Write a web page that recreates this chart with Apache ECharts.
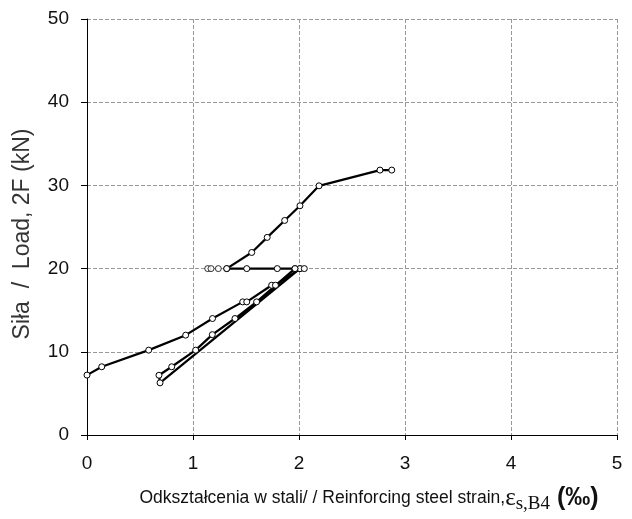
<!DOCTYPE html>
<html>
<head>
<meta charset="utf-8">
<script src="https://cdn.jsdelivr.net/npm/echarts@6/dist/echarts.min.js"></script>
<style>html,body{margin:0;padding:0;background:#fff}#c{width:632px;height:519px}</style>
</head>
<body>
<div id="c"></div>
<script>
// Data (strain ‰, load kN)
const load1X = [0, 0.139, 0.582, 0.931, 1.184, 1.469, 1.507, 1.742, 1.778, 2.009];
const load1Y = [7.2, 8.2, 10.2, 12.0, 14.0, 16.0, 16.0, 18.0, 18.0, 20.0];
const cycleX = [2.009, 0.689, 0.679, 0.799, 1.025, 1.182, 1.396, 1.600, 1.962];
const cycleY = [20.0, 6.27, 7.18, 8.2, 10.2, 12.06, 14.0, 16.0, 20.0];
const holdX = [1.962, 2.050, 1.795, 1.507, 1.318];
const holdY = [20.0, 20.0, 20.0, 20.0, 20.0];
const upperX = [1.318, 1.554, 1.700, 1.865, 2.009, 2.189, 2.764, 2.875];
const upperY = [20.0, 21.94, 23.75, 25.79, 27.55, 29.95, 31.84, 31.84];
const looseX = [1.139, 1.170, 1.239];
const looseY = [20.0, 20.0, 20.0];
const xTicks = [0, 1, 2, 3, 4, 5];
const yTicks = [0, 10, 20, 30, 40, 50];

const pairs = (xs, ys) => xs.map((x, i) => [x, ys[i]]);
const FONT = 'Liberation Sans';
const lineSeries = (xs, ys) => ({
  type: 'line', data: pairs(xs, ys),
  symbol: 'circle', symbolSize: 6, showAllSymbol: true,
  lineStyle: {color: '#000', width: 2.2},
  itemStyle: {color: '#fff', borderColor: '#000', borderWidth: 1},
  animation: false, z: 3
});

const chart = echarts.init(document.getElementById('c'), null, {renderer: 'canvas'});
chart.setOption({
  backgroundColor: '#fff',
  animation: false,
  grid: {left: 87, right: 15, top: 19, bottom: 84, containLabel: false},
  xAxis: {
    type: 'value', min: xTicks[0], max: xTicks[xTicks.length - 1], interval: 1,
    axisLine: {show: true, onZero: false, lineStyle: {color: '#000', width: 1}},
    axisTick: {show: true, length: 5, lineStyle: {color: '#000'}},
    axisLabel: {color: '#111', fontFamily: FONT, fontSize: 19, margin: 19},
    splitLine: {show: true, lineStyle: {color: '#999', type: [4, 2], width: 1}},
    name: '{t|Odkształcenia w stali/ / Reinforcing steel strain,}{e|ε}{s|s,B4}{b| (‰)}',
    nameLocation: 'middle', nameGap: 48,
    nameTextStyle: {
      padding: [0, 0, 0, 34],
      rich: {
        t: {fontFamily: FONT, fontSize: 17.5, color: '#111'},
        e: {fontFamily: 'Liberation Serif', fontSize: 25, color: '#111'},
        s: {fontFamily: 'Liberation Serif', fontSize: 19, color: '#111', padding: [12, 0, 0, 0]},
        b: {fontFamily: FONT, fontSize: 25, fontWeight: 'bold', color: '#111'}
      }
    }
  },
  yAxis: {
    type: 'value', min: yTicks[0], max: yTicks[yTicks.length - 1], interval: 10,
    axisLine: {show: true, onZero: false, lineStyle: {color: '#000', width: 1}},
    axisTick: {show: true, length: 6, lineStyle: {color: '#000'}},
    axisLabel: {color: '#111', fontFamily: FONT, fontSize: 19, margin: 18},
    splitLine: {show: true, lineStyle: {color: '#999', type: [4, 2], width: 1}},
    name: 'Siła  /  Load, 2F (kN)', nameLocation: 'middle', nameGap: 53,
    nameTextStyle: {fontFamily: FONT, fontSize: 23, color: '#333', padding: [0, 14, 0, 0]}
  },
  series: [
    lineSeries(load1X, load1Y),
    lineSeries(cycleX, cycleY),
    lineSeries(holdX, holdY),
    lineSeries(upperX, upperY),
    {type: 'scatter', data: pairs(looseX, looseY), symbol: 'circle', symbolSize: 6,
     itemStyle: {color: '#fff', borderColor: '#000', borderWidth: 1}, z: 4}
  ]
});
</script>
</body>
</html>
